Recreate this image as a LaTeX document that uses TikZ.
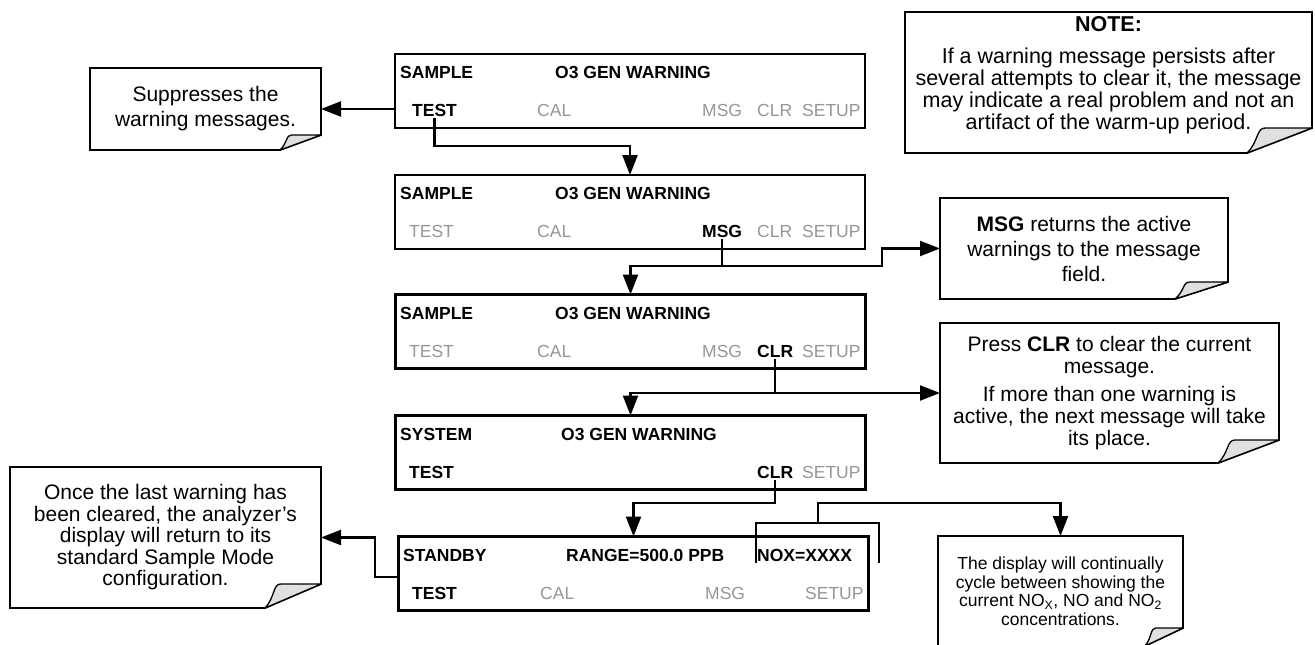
\documentclass[tikz,border=0pt]{standalone}
\usepackage{fontspec}
\setmainfont{Liberation Sans}
\usetikzlibrary{arrows.meta,calc}
\definecolor{gtext}{RGB}{150,150,150}
\definecolor{curlgray}{RGB}{224,224,224}
\newcommand\dfont{\fontsize{17.5}{20}\selectfont}
\newcommand\dfontb{\fontsize{17.5}{20}\selectfont\bfseries}
\newcommand\foldcallout[3]{%
  \draw[cborder] (#1.north west) -- (#1.north east) -- ([yshift=#3pt]#1.south east)
     -- ([xshift=-#2pt]#1.south east) -- (#1.south west) -- cycle;
  \draw[curl] ([xshift=-#2pt]#1.south east)
     .. controls ([xshift=-0.82*#2pt,yshift=0.45*#3pt]#1.south east) and ([xshift=-0.86*#2pt,yshift=#3pt]#1.south east)
     .. ([xshift=-0.72*#2pt,yshift=#3pt]#1.south east) -- ([yshift=#3pt]#1.south east) -- cycle;
}
\tikzset{
  disp/.style={draw, line width=2.5pt, minimum width=470pt, minimum height=74pt, inner sep=0pt, outer sep=0pt},
  dt/.style={font=\dfont, text=gtext, inner sep=0pt, anchor=west},
  db/.style={font=\dfontb, text=black, inner sep=0pt, anchor=west},
  conn/.style={line width=2.2pt},
  arr/.style={conn, -{Triangle[length=20pt,width=15pt]}},
  callout/.style={inner sep=0pt, outer sep=0pt, align=center},
  cborder/.style={line width=1.8pt, line join=miter},
  curl/.style={fill=curlgray, draw=black, line width=1.3pt, line join=round},
}
\begin{document}
\begin{tikzpicture}[x=1pt,y=-1pt]
\useasboundingbox (0,0) rectangle (1315,645);
\begin{scope}
\clip (0,0) rectangle (1315,645);

% ---------- display boxes ----------
\node[disp] (b1) at (630,91) {};
\node[db] (b1sample) at (400,72) {SAMPLE};
\node[db] (b1title) at (555,72) {O3 GEN WARNING};
\node[db] (b1test) at (412,110) {TEST};
\node[dt] (b1cal) at (537,110) {CAL};
\node[dt] (b1msg) at (702,110) {MSG};
\node[dt] (b1clr) at (757,110) {CLR};
\node[dt] (b1setup) at (802,110) {SETUP};

\node[disp] (b2) at (630,212) {};
\node[db] (b2sample) at (400,193) {SAMPLE};
\node[db] (b2title) at (555,193) {O3 GEN WARNING};
\node[dt] (b2test) at (409,231) {TEST};
\node[dt] (b2cal) at (537,231) {CAL};
\node[db] (b2msg) at (702,231) {MSG};
\node[dt] (b2clr) at (757,231) {CLR};
\node[dt] (b2setup) at (802,231) {SETUP};

\node[disp] (b3) at (630.5,331.5) {};
\node[db] (b3sample) at (400,313) {SAMPLE};
\node[db] (b3title) at (555,313) {O3 GEN WARNING};
\node[dt] (b3test) at (409,351) {TEST};
\node[dt] (b3cal) at (537,351) {CAL};
\node[dt] (b3msg) at (702,351) {MSG};
\node[db] (b3clr) at (757,351) {CLR};
\node[dt] (b3setup) at (802,351) {SETUP};

\node[disp] (b4) at (630.5,452.5) {};
\node[db] (b4system) at (400,434) {SYSTEM};
\node[db] (b4title) at (561,434) {O3 GEN WARNING};
\node[db] (b4test) at (409,472) {TEST};
\node[db] (b4clr) at (757,472) {CLR};
\node[dt] (b4setup) at (802,472) {SETUP};

\node[disp] (b5) at (633.5,573.5) {};
\node[db] (b5standby) at (403,555) {STANDBY};
\node[db] (b5range) at (566,555) {RANGE=500.0 PPB};
\node[db] (b5nox) at (757,555) {NOX=XXXX};
\node[db] (b5test) at (412,593) {TEST};
\node[dt] (b5cal) at (540,593) {CAL};
\node[dt] (b5msg) at (705,593) {MSG};
\node[dt] (b5setup) at (805,593) {SETUP};

% ---------- callouts ----------
\node[callout, minimum width=231pt, minimum height=82pt, font=\fontsize{21}{25}\selectfont] (c1) at (205.5,109)
  {Suppresses the\\warning messages.};
\foldcallout{c1}{41}{15}

\node[callout, minimum width=407pt, minimum height=141pt] (cn) at (1108.5,82.5) {};
\node[callout, font=\fontsize{21.5}{22}\selectfont] (cntext) at (1108.5,75)
  {\textbf{NOTE:}\\[10pt]If a warning message persists after\\several attempts to clear it, the message\\may indicate a real problem and not an\\artifact of the warm-up period.};
\foldcallout{cn}{65}{25}

\node[callout, minimum width=288pt, minimum height=101pt, font=\fontsize{21}{25}\selectfont] (c2) at (1084,248.5)
  {\textbf{MSG} returns the active\\warnings to the message\\field.};
\foldcallout{c2}{53}{17}

\node[callout, minimum width=339pt, minimum height=140pt, font=\fontsize{21}{22}\selectfont] (c3) at (1109.5,393)
  {Press \textbf{CLR} to clear the current\\message.\\[6pt]If more than one warning is\\active, the next message will take\\its place.};
\foldcallout{c3}{61}{23}

\node[callout, minimum width=311pt, minimum height=141pt, font=\fontsize{21}{21.5}\selectfont] (c5) at (165.5,537.5)
  {Once the last warning has\\been cleared, the analyzer’s\\display will return to its\\standard Sample Mode\\configuration.};
\foldcallout{c5}{56}{24}

\node[callout, minimum width=245pt, minimum height=110pt, font=\fontsize{17.5}{18.5}\selectfont] (c6) at (1060.5,591)
  {The display will continually\\cycle between showing the\\current NO\textsubscript{X}, NO and NO\textsubscript{2}\\concentrations.};
\foldcallout{c6}{38}{18}

% ---------- connectors ----------
\coordinate (r1) at (0,146);
\coordinate (r2) at (0,266);
\coordinate (s2) at (882,266);
\coordinate (r3) at (0,393);
\coordinate (r4) at (0,503);
\coordinate (s5) at (375,577);
\coordinate (bl) at (756,563);
\coordinate (bt) at (818,523);
\coordinate (br) at (879,563);

\draw[arr] (b1.west |- c1.east) -- (c1.east);
\draw[arr] ([yshift=-1.5pt]b1test.south) |- (b2.north |- r1) -- (b2.north);

\draw[arr] ([yshift=-1.5pt]b2msg.south) |- (b3.north |- r2) -- (b3.north);
\draw[arr] (b2msg.south |- r2) -- (s2) |- (c2.west);

\draw[arr] ([yshift=-1.5pt]b3clr.south) |- (b4.north |- r3) -- (b4.north);
\draw[arr] (b3clr.south |- r3) -- (c3.west);

\draw[arr] ([yshift=-1.5pt]b4clr.south) |- (b5.north |- r4) -- (b5.north);

\draw[arr] (b5.west |- s5) -- (s5) |- (c5.east);

\draw[conn] (bl) |- (bt) -| (br);
\draw[arr] (bt) |- (c6.north |- r4) -- (c6.north);
\end{scope}
\end{tikzpicture}
\end{document}
